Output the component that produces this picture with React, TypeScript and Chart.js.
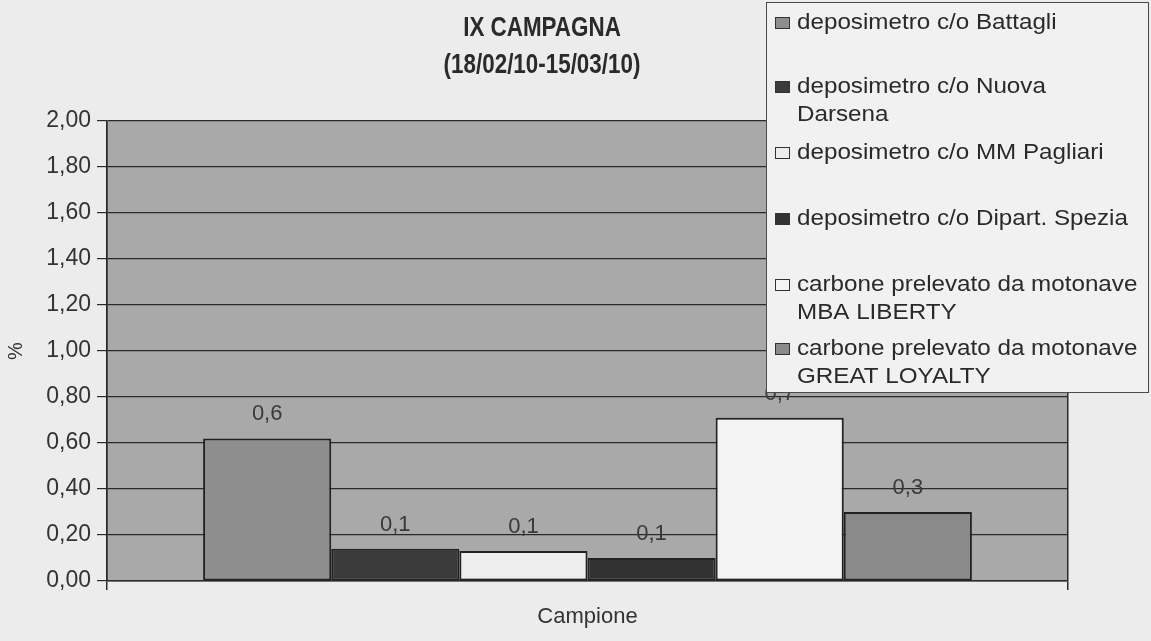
import { useEffect, useRef } from "react";
import { Chart, registerables } from "chart.js";

Chart.register(...registerables);

// Chart text
const titleLines = ["IX CAMPAGNA", "(18/02/10-15/03/10)"];
const categories = ["Campione"];
const yAxisTitle = "%";

// Series: legend lines, values (%) and fills
const seriesNames: string[][] = [
  ["deposimetro c/o Battagli"],
  ["deposimetro c/o Nuova", "Darsena"],
  ["deposimetro c/o MM Pagliari"],
  ["deposimetro c/o Dipart. Spezia"],
  ["carbone prelevato da motonave", "MBA LIBERTY"],
  ["carbone prelevato da motonave", "GREAT LOYALTY"],
];
const seriesValues = [0.62, 0.14, 0.13, 0.1, 0.71, 0.3];
const seriesColors = ["#8e8e8e", "#3b3b3b", "#ededed", "#323232", "#f3f3f3", "#8a8a8a"];

// Value axis
const yMin = 0;
const yMax = 2;
const yStep = 0.2;

const FONT = '"Liberation Sans", Arial, Helvetica, sans-serif';
const INK = "#2a2a2a";
const PAGE_BG = "#ececec";
const PLOT_BG = "#a9a9a9";

const fmtComma = (v: number, digits: number) => v.toFixed(digits).replace(".", ",");

// Backgrounds of the page and of the plotting area
const backgroundPlugin = {
  id: "backgrounds",
  beforeDraw(chart: Chart) {
    const { ctx, chartArea } = chart;
    ctx.save();
    ctx.fillStyle = PAGE_BG;
    ctx.fillRect(0, 0, chart.width, chart.height);
    ctx.fillStyle = PLOT_BG;
    ctx.fillRect(chartArea.left, chartArea.top, chartArea.right - chartArea.left, chartArea.bottom - chartArea.top);
    ctx.restore();
  },
};

// Value labels above each bar, one decimal
const valueLabelPlugin = {
  id: "valueLabels",
  afterDatasetsDraw(chart: Chart) {
    const { ctx } = chart;
    ctx.save();
    ctx.font = `22px ${FONT}`;
    ctx.fillStyle = "#3a3a3a";
    ctx.textAlign = "center";
    ctx.textBaseline = "alphabetic";
    chart.data.datasets.forEach((ds, i) => {
      const meta = chart.getDatasetMeta(i);
      meta.data.forEach((bar: any, j: number) => {
        const v = ds.data[j] as number;
        ctx.fillText(fmtComma(v, 1), bar.x, bar.y - 18);
      });
    });
    ctx.restore();
  },
};

// Two-line bold title, condensed
const titlePlugin = {
  id: "campaignTitle",
  afterDraw(chart: Chart) {
    const { ctx } = chart;
    ctx.save();
    ctx.font = `bold 28px ${FONT}`;
    ctx.fillStyle = INK;
    ctx.textAlign = "center";
    ctx.textBaseline = "alphabetic";
    ctx.translate(542, 0);
    ctx.scale(0.8, 1);
    ctx.fillText(titleLines[0], 0, 36);
    ctx.fillText(titleLines[1], 0, 73);
    ctx.restore();
  },
};

// Boxed legend overlapping the upper right of the plot
const legendPlugin = {
  id: "boxLegend",
  afterDraw(chart: Chart) {
    const { ctx } = chart;
    const box = { x: 766.5, y: 2.5, w: 382, h: 390 };
    const baselines = [29, 93, 159, 225, 291, 355];
    const lineGap = 28;
    ctx.save();
    ctx.fillStyle = "#f1f1f1";
    ctx.fillRect(box.x, box.y, box.w, box.h);
    ctx.strokeStyle = "#4a4a4a";
    ctx.lineWidth = 1;
    ctx.strokeRect(box.x, box.y, box.w, box.h);

    chart.data.datasets.forEach((ds, i) => {
      const base = baselines[i];
      ctx.fillStyle = ds.backgroundColor as string;
      ctx.fillRect(775, base - 12, 15, 12);
      ctx.strokeStyle = "#333";
      ctx.lineWidth = 1;
      ctx.strokeRect(775.5, base - 11.5, 14, 11);

      ctx.fillStyle = INK;
      ctx.font = `22px ${FONT}`;
      ctx.textAlign = "left";
      ctx.textBaseline = "alphabetic";
      seriesNames[i].forEach((line, k) => {
        ctx.save();
        ctx.translate(797, base + k * lineGap);
        ctx.scale(1.1, 1);
        ctx.fillText(line, 0, 0);
        ctx.restore();
      });
    });
    ctx.restore();
  },
};

export default function App() {
  const canvasRef = useRef<HTMLCanvasElement | null>(null);

  useEffect(() => {
    document.body.style.margin = "0";
    document.body.style.background = PAGE_BG;
    const canvas = canvasRef.current;
    if (!canvas) return;

    const chart = new Chart(canvas, {
      type: "bar",
      data: {
        labels: categories,
        datasets: seriesNames.map((lines, i) => ({
          label: lines.join(" "),
          data: [seriesValues[i]],
          backgroundColor: seriesColors[i],
          borderColor: "#222222",
          borderWidth: 2,
          borderSkipped: false,
          categoryPercentage: 0.8,
          barPercentage: 1.0,
        })),
      },
      options: {
        responsive: false,
        maintainAspectRatio: false,
        animation: false,
        layout: { padding: { top: 121, right: 83, bottom: 0, left: 0 } },
        plugins: {
          legend: { display: false },
          title: { display: false },
          tooltip: { enabled: false },
        },
        scales: {
          x: {
            type: "category",
            offset: true,
            grid: {
              display: true,
              offset: true,
              drawOnChartArea: true,
              drawTicks: true,
              tickLength: 9,
              color: "#2b2b2b",
              lineWidth: 1.5,
            },
            border: { display: true, color: "#2b2b2b", width: 1.5 },
            ticks: { color: "#333", font: { size: 22, family: FONT }, padding: 14 },
            afterFit: (scale: any) => {
              scale.height = 60;
            },
          },
          y: {
            min: yMin,
            max: yMax,
            ticks: {
              stepSize: yStep,
              color: "#333",
              font: { size: 23, family: FONT },
              padding: 6,
              callback: (v: any) => fmtComma(Number(v), 2),
            },
            grid: { color: "#2b2b2b", lineWidth: 1.2, tickLength: 10 },
            border: { display: true, color: "#2b2b2b", width: 1.5 },
            title: {
              display: true,
              text: yAxisTitle,
              color: "#333",
              font: { size: 20, family: FONT },
              padding: { top: 4, bottom: 4 },
            },
            afterFit: (scale: any) => {
              scale.width = 107;
            },
          },
        },
      },
      plugins: [backgroundPlugin, valueLabelPlugin, titlePlugin, legendPlugin],
    });

    return () => chart.destroy();
  }, []);

  return (
    <div style={{ width: 1151, height: 641 }}>
      <canvas ref={canvasRef} width={1151} height={641} style={{ display: "block" }} />
    </div>
  );
}
